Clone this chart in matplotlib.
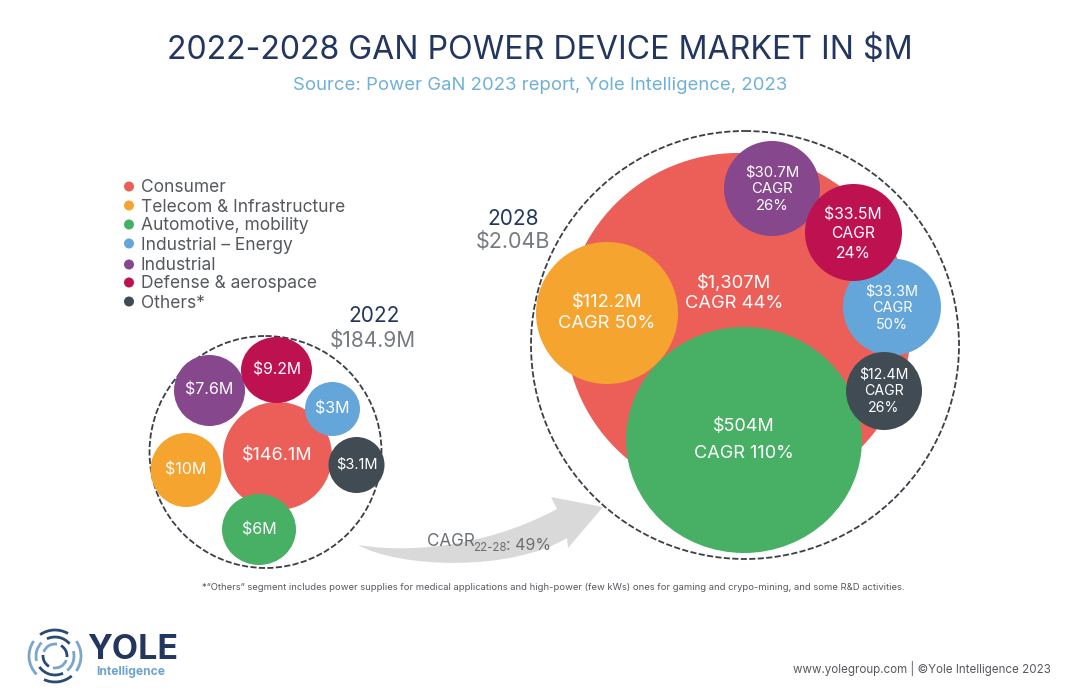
import matplotlib
matplotlib.use('Agg')
import matplotlib.pyplot as plt
from matplotlib.patches import Circle, Ellipse, PathPatch, Arc
from matplotlib.path import Path

plt.rcParams['font.family'] = ['Inter', 'DejaVu Sans']

# Data
segments = ['Consumer', 'Telecom & Infrastructure', 'Automotive, mobility',
            'Industrial – Energy', 'Industrial', 'Defense & aerospace', 'Others*']
values_2022 = [146.1, 10, 6, 3, 7.6, 9.2, 3.1]
values_2028 = [1307, 112.2, 504, 33.3, 30.7, 33.5, 12.4]
cagr = [44, 50, 110, 50, 26, 24, 26]
colors = ['#ec5f59', '#f6a430', '#48b065', '#64a5da', '#87478d', '#bd124f', '#414b54']

# bubble layout in image pixels: x, y, x radius, y radius
layout_2022 = [(277.5, 456, 54.5, 54), (186, 470, 35.5, 37), (259, 529.5, 37, 35.5),
               (332.5, 409, 27.5, 27), (209.5, 390.5, 35.5, 35.5), (276.5, 370, 35.5, 33),
               (356.5, 465, 28, 28)]
layout_2028 = [(738, 326, 173, 173), (607, 313, 71, 71), (744, 440, 118, 113),
               (892, 307, 49, 48.5), (772, 188.5, 48, 47.5), (853.5, 232.5, 48.5, 48.5),
               (884, 391, 38, 39)]

# label style: font size for each bubble, and x, y, line spacing for 2028
fonts_2022 = [13, 11.5, 11.5, 11.5, 11.5, 11.3, 10.5]
fonts_2028 = [13.2, 13.2, 13, 10.4, 10.7, 11.3, 10.2]
text_2028 = [(734, 293, 1.2), (607, 313, 1.25), (744, 440, 1.7), (892, 308, 1.25),
             (772, 189, 1.25), (853, 234, 1.35), (884, 391, 1.25)]

NAVY = '#22365f'
GREY = '#55595e'


def money(v):
    return f'${v:,g}M'


fig = plt.figure(figsize=(10.8, 6.98), dpi=100)
ax = fig.add_axes([0, 0, 1, 1])
ax.set_xlim(0, 1080)
ax.set_ylim(698, 0)
ax.axis('off')

# Titles
ax.text(540, 51, '2022-2028 GAN POWER DEVICE MARKET IN $M', fontsize=23.1, color=NAVY,
        ha='center', va='center')
ax.text(540, 85, 'Source: Power GaN 2023 report, Yole Intelligence, 2023', fontsize=13.35,
        color='#6fb0d8', ha='center', va='center')

# Legend
legend_y = [187, 206, 225, 244, 265, 283, 302]
for name, c, y in zip(segments, colors, legend_y):
    ax.add_patch(Circle((129, y - 0.5), 5, color=c, lw=0))
    ax.text(141, y + 1, name, fontsize=12.5, color=GREY, va='center')

# Arrow behind the big circles
verts = [(358, 545), (420, 555), (496, 542), (557, 509),
         (551, 497), (603, 507), (568, 548), (567, 538),
         (510, 572), (400, 568), (358, 545)]
codes = [Path.MOVETO, Path.CURVE4, Path.CURVE4, Path.CURVE4,
         Path.LINETO, Path.LINETO, Path.LINETO, Path.LINETO,
         Path.CURVE4, Path.CURVE4, Path.CURVE4]
ax.add_patch(PathPatch(Path(verts, codes), fc='#d9d9d9', ec='none', zorder=1))
ax.text(427, 541, 'CAGR', fontsize=12.3, color='#6b6f74', va='center', zorder=5)
ax.text(473, 548, '22-28', fontsize=8.3, color='#6b6f74', va='center', zorder=5)
ax.text(506, 546, ': 49%', fontsize=11.5, color='#6b6f74', va='center', zorder=5)

# Dashed outlines
for x, y, r in [(265.5, 452, 116), (745, 345, 214)]:
    ax.add_patch(Circle((x, y), r, fc='none', ec='#3a3f46', lw=1.3, ls=(0, (3.4, 1.3)), zorder=2))

# 2022 bubbles
for v, c, fs, (x, y, rx, ry) in zip(values_2022, colors, fonts_2022, layout_2022):
    ax.add_patch(Ellipse((x, y), 2 * rx, 2 * ry, color=c, lw=0, zorder=3))
    ax.text(x, y, money(v), fontsize=fs, color='white', ha='center', va='center', zorder=6)

# 2028 bubbles, drawn in segment order so the small ones sit on top
for i, (c, (x, y, rx, ry)) in enumerate(zip(colors, layout_2028)):
    ax.add_patch(Ellipse((x, y), 2 * rx, 2 * ry, color=c, lw=0, zorder=3 + i * 0.1))

for i, (v, g, fs, (x, y, ls)) in enumerate(zip(values_2028, cagr, fonts_2028, text_2028)):
    if i < 3:
        label = f'{money(v)}\nCAGR {g}%'
    else:
        label = f'{money(v)}\nCAGR\n{g}%'
    ax.text(x, y, label, fontsize=fs, color='white', ha='center', va='center',
            linespacing=ls, zorder=6)

# Year headers
ax.text(374, 316, '2022', fontsize=15, color=NAVY, ha='center', va='center')
ax.text(373, 341, '$184.9M', fontsize=15, color='#777b80', ha='center', va='center')
ax.text(513, 219, '2028', fontsize=15, color=NAVY, ha='center', va='center')
ax.text(513, 242, '$2.04B', fontsize=15.5, color='#777b80', ha='center', va='center')

# Footnote
ax.text(553.5, 588, '*“Others” segment includes power supplies for medical applications and high-power (few kWs) ones for gaming and crypo-mining, and some R&D activities.',
        fontsize=6.8, color=GREY, ha='center', va='center')

# Logo
logo_x, logo_y = 55, 656
rings = [(26, [(50, 115), (235, 300)], '#2b4a78'),
         (26, [(135, 215), (325, 395)], '#7aa5cc'),
         (19, [(65, 145), (245, 320)], '#2b4a78'),
         (19, [(165, 225), (345, 50)], '#7aa5cc'),
         (12, [(20, 100), (200, 280)], '#7aa5cc'),
         (12, [(120, 185), (300, 5)], '#2b4a78')]
for r, spans, col in rings:
    for a, b in spans:
        ax.add_patch(Arc((logo_x, logo_y), 2 * r, 2 * r, theta1=a, theta2=b, color=col, lw=2))
ax.text(132.5, 650, 'YOLE', fontsize=24.5, fontweight='bold', color=NAVY, ha='center', va='center')
ax.text(131, 672, 'Intelligence', fontsize=8.7, fontweight='bold', color='#6fa3d0', ha='center', va='center')
ax.text(1051, 668, 'www.yolegroup.com | ©Yole Intelligence 2023', fontsize=8.35, color=GREY,
        ha='right', va='center')

fig.savefig('out.png', dpi=100)
